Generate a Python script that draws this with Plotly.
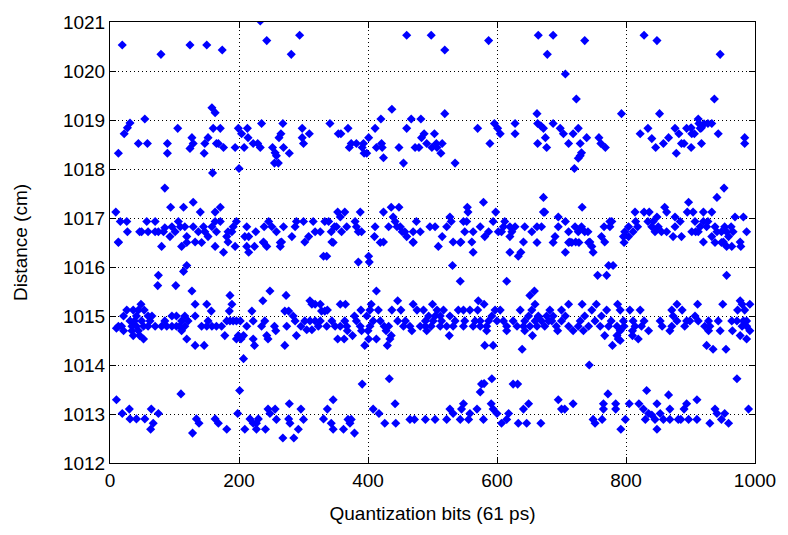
import plotly.graph_objects as go

# Quantization bits (x) vs measured distance in cm (y), read band by band
band_top = [(19,1020.53),(79,1020.34),(124,1020.53),(150,1020.53),(174,1020.43),(233,1021.02),
            (243,1020.62),(281,1020.34),(294,1020.73),(460,1020.73),(498,1020.73),(519,1020.43),
            (587,1020.62),(664,1020.73),(678,1020.34),(687,1020.73),(736,1020.62),(706,1019.94),
            (723,1019.43),(793,1019.13),(828,1020.73),(848,1020.62),(946,1020.34),(937,1019.43),
            (852,1019.13)]

band_1019 = [(13,1018.32),(22,1018.72),(27,1018.84),(31,1018.94),(54,1019.02),(44,1018.52),(58,1018.52),
             (89,1018.52),(89,1018.32),(105,1018.83),(127,1018.64),(129,1018.52),(124,1018.42),(152,1018.64),
             (147,1018.52),(146,1018.32),(158,1019.25),(163,1019.15),(160,1018.83),(165,1018.52),(159,1017.92),
             (171,1018.83),(168,1018.52),(176,1018.44),(194,1018.44),(199,1018.83),(204,1018.72),(213,1018.83),
             (214,1018.64),(208,1018.44),(222,1018.52),(229,1018.52),(233,1018.44),(235,1018.93),(200,1018.01),
             (252,1018.44),(256,1018.33),(258,1018.27),(255,1018.12),(261,1018.12),(262,1018.64),(265,1018.72),
             (268,1018.93),(269,1018.44),(278,1018.32),(298,1018.83),(298,1018.64),(300,1018.52),(309,1018.72),
             (341,1018.93),(354,1018.72),(358,1018.72),(369,1018.83),(374,1018.52),(371,1018.44),(382,1018.52),
             (393,1018.52),(391,1018.44),(394,1018.32),(398,1018.32),(401,1018.64),(411,1018.83),(413,1018.44),
             (420,1019.02),(421,1018.52),(422,1018.44),(424,1018.23),(437,1019.22),(448,1018.44),(455,1018.12),
             (460,1018.83),(467,1019.02),(473,1018.44),(479,1018.44),(482,1019.02),(483,1018.64),(487,1018.72),
             (491,1018.52),(499,1018.44),(503,1018.72),(506,1018.52),(519,1019.13),(507,1018.44),(515,1018.52),
             (513,1018.32),(535,1018.12),(570,1018.83),(589,1018.52),(596,1018.93),(601,1018.83),(605,1018.72),
             (628,1018.93),(628,1018.72),(662,1019.13),(663,1018.93),(668,1018.88),(672,1018.83),(663,1018.52),
             (675,1018.64),(687,1018.93),(698,1018.83),(703,1018.72),(718,1018.72),(726,1018.83),(677,1018.44),
             (711,1018.52),(729,1018.52),(739,1018.64),(731,1018.33),(729,1018.27),(726,1018.22),(720,1018.01),
             (758,1018.64),(761,1018.52),(768,1018.44),(822,1018.72),(834,1018.83),(840,1018.62),(846,1018.44),
             (858,1018.52),(866,1018.64),(876,1018.83),(882,1018.72),(886,1018.52),(890,1018.52),(894,1018.83),
             (901,1018.84),(902,1018.72),(906,1018.72),(901,1018.44),(878,1018.32),(912,1019.02),(913,1018.93),
             (917,1018.84),(921,1018.92),(927,1018.93),(933,1018.93),(915,1018.83),(943,1018.72),(917,1018.52),
             (984,1018.64),(984,1018.52)]

band_1017 = [(9,1017.12),(85,1017.61),(94,1017.22),(114,1017.22),(129,1017.32),(140,1017.12),(163,1017.12),
             (16,1016.93),(26,1016.93),(27,1016.72),(46,1016.72),(49,1016.72),(57,1016.93),(59,1016.72),
             (70,1016.93),(70,1016.72),(75,1016.72),(83,1016.72),(85,1016.80),(93,1016.62),(96,1016.82),
             (101,1016.72),(106,1016.93),(109,1016.82),(116,1016.82),(119,1016.62),(129,1016.82),(137,1016.72),
             (145,1016.82),(147,1016.72),(152,1016.62),(158,1016.82),(163,1016.93),(165,1016.72),(13,1016.51),
             (132,1016.51),(13,1016.50),(80,1016.42),(111,1016.42),(119,1016.50),(142,1016.50),(163,1016.42),
             (119,1016.03),(114,1015.91),(75,1015.83),(74,1015.62),(102,1015.62),(127,1015.51),
             (171,1017.22),(171,1016.93),(183,1016.72),(181,1016.62),(189,1016.72),(191,1016.82),(196,1016.93),
             (183,1016.51),(212,1016.82),(209,1016.62),(215,1016.62),(226,1016.72),(239,1016.82),(246,1016.93),
             (251,1016.82),(258,1016.72),(269,1016.82),(282,1016.62),(287,1016.82),(289,1016.93),(300,1016.93),
             (315,1016.93),(308,1016.62),(318,1016.72),(326,1016.72),(333,1016.93),(238,1016.51),(266,1016.51),
             (302,1016.51),(176,1016.30),(194,1016.42),(212,1016.42),(215,1016.30),(224,1016.42),(238,1016.50),
             (243,1016.42),(264,1016.50),(264,1016.42),(331,1016.22),
             (353,1017.12),(364,1017.12),(388,1017.12),(424,1017.12),(436,1017.22),(448,1017.22),(339,1016.93),
             (351,1016.82),(357,1017.02),(380,1016.93),(382,1016.82),(385,1016.72),(390,1016.72),(343,1016.72),
             (348,1016.82),(367,1016.82),(359,1016.72),(411,1016.82),(410,1016.62),(432,1016.82),(439,1017.02),
             (442,1016.93),(445,1016.82),(450,1016.82),(453,1016.72),(457,1016.72),(460,1016.62),(470,1016.72),
             (475,1016.93),(481,1016.72),(496,1016.82),(504,1016.82),(344,1016.51),(424,1016.51),(470,1016.51),
             (346,1016.50),(336,1016.22),(385,1016.10),(401,1016.22),(402,1016.10),(419,1016.50),(470,1016.50),
             (554,1017.22),(555,1017.12),(579,1017.32),(598,1017.12),(672,1017.42),(672,1017.12),(527,1017.02),
             (529,1016.93),(548,1016.93),(553,1016.93),(522,1016.82),(574,1016.82),(594,1016.93),(612,1016.93),
             (610,1016.82),(620,1016.82),(628,1016.82),(515,1016.62),(550,1016.72),(563,1016.72),(587,1016.72),
             (602,1016.72),(607,1016.72),(623,1016.72),(643,1016.82),(654,1016.72),(662,1016.82),(669,1016.82),
             (620,1016.62),(581,1016.62),(532,1016.51),(544,1016.51),(561,1016.51),(641,1016.51),(509,1016.42),
             (543,1016.50),(563,1016.30),(620,1016.30),(633,1016.22),(637,1016.30),(662,1016.50),(531,1016.03),
             (543,1015.71),(615,1015.71),(658,1015.51),(651,1015.42),
             (732,1017.22),(674,1017.12),(695,1017.02),(706,1016.93),(711,1016.72),(695,1016.82),(690,1016.62),
             (721,1016.82),(726,1016.72),(731,1016.82),(736,1016.72),(741,1016.72),(722,1016.51),(713,1016.51),
             (744,1016.51),(762,1016.62),(766,1016.82),(775,1016.93),(778,1016.93),(775,1016.82),(767,1016.51),
             (796,1016.62),(798,1016.72),(804,1016.82),(814,1017.12),(815,1016.93),(811,1016.72),(818,1016.82),
             (804,1016.62),(828,1017.12),(836,1017.12),(834,1016.93),(842,1016.93),(840,1016.82),(845,1016.72),
             (687,1016.50),(711,1016.50),(716,1016.50),(727,1016.50),(742,1016.50),(747,1016.42),(749,1016.30),
             (706,1016.30),(797,1016.50),(773,1016.03),(780,1016.03),(756,1015.83),(770,1015.83),
             (952,1017.61),(941,1017.42),(860,1017.22),(863,1017.12),(897,1017.32),(895,1017.12),(904,1017.12),
             (920,1017.12),(933,1017.12),(848,1017.02),(876,1017.02),(969,1017.02),(982,1017.02),(884,1016.93),
             (907,1016.93),(920,1016.93),(927,1016.93),(850,1016.82),(855,1016.72),(863,1016.72),(876,1016.82),
             (915,1016.82),(925,1016.82),(938,1016.82),(953,1016.82),(963,1016.82),(941,1016.72),(948,1016.72),
             (956,1016.72),(966,1016.72),(902,1016.72),(908,1016.72),(912,1016.72),(987,1016.72),(873,1016.62),
             (886,1016.62),(933,1016.62),(959,1016.62),(920,1016.51),(951,1016.51),(977,1016.51),(938,1016.50),
             (948,1016.50),(956,1016.42),(964,1016.42),(978,1016.42),(956,1015.83)]

band_1015 = [(48,1015.24),(26,1015.12),(36,1015.12),(44,1015.12),(53,1015.12),(21,1015.0),(41,1015.0),
             (59,1015.0),(65,1015.0),(31,1014.9),(38,1014.9),(49,1014.9),(62,1014.9),(85,1014.9),(96,1015.0),
             (103,1015.0),(111,1014.9),(116,1015.0),(121,1014.9),(132,1015.24),(132,1015.0),(150,1015.24),
             (157,1015.1),(152,1014.9),(13,1014.79),(18,1014.79),(34,1014.79),(41,1014.79),(52,1014.79),
             (59,1014.79),(70,1014.79),(80,1014.79),(88,1014.79),(96,1014.79),(103,1014.79),(108,1014.79),
             (116,1014.79),(142,1014.79),(150,1014.79),(158,1014.79),(10,1014.75),(21,1014.7),(34,1014.7),
             (44,1014.7),(111,1014.7),(36,1014.6),(46,1014.6),(52,1014.53),(119,1014.53),(132,1014.4),
             (146,1014.4),
             (186,1015.42),(189,1015.24),(185,1015.1),(220,1015.1),(237,1015.31),(248,1015.51),(273,1015.42),
             (271,1015.1),(277,1015.1),(310,1015.31),(313,1015.24),(318,1015.24),(326,1015.24),(328,1015.1),
             (333,1015.1),(284,1015.0),(181,1014.9),(186,1014.9),(191,1014.9),(196,1014.9),(202,1014.9),
             (222,1014.9),(240,1014.9),(287,1014.9),(302,1014.9),(310,1014.9),(318,1014.9),(326,1014.9),
             (165,1014.79),(173,1014.79),(212,1014.79),(235,1014.79),(255,1014.79),(274,1014.79),(296,1014.79),
             (323,1014.79),(257,1014.7),(305,1014.72),(313,1014.72),(178,1014.6),(199,1014.6),(207,1014.6),
             (243,1014.6),(289,1014.6),(196,1014.53),(222,1014.53),(245,1014.53),(203,1014.53),(224,1014.4),
             (271,1014.4),(207,1014.13),
             (413,1015.51),(446,1015.31),(357,1015.24),(365,1015.24),(405,1015.24),(470,1015.24),(500,1015.24),
             (337,1015.12),(389,1015.12),(403,1015.12),(416,1015.12),(437,1015.12),(451,1015.12),(476,1015.12),
             (486,1015.12),(379,1015.0),(398,1015.0),(494,1015.0),(504,1015.0),(344,1014.9),(364,1014.9),
             (382,1014.9),(408,1014.9),(419,1014.9),(446,1014.9),(458,1014.9),(489,1014.9),(501,1014.9),
             (336,1014.79),(349,1014.79),(357,1014.79),(367,1014.79),(388,1014.79),(403,1014.79),(425,1014.79),
             (432,1014.79),(455,1014.79),(465,1014.79),(481,1014.79),(489,1014.79),(498,1014.79),(368,1014.7),
             (390,1014.7),(400,1014.7),(428,1014.7),(468,1014.7),(491,1014.7),(376,1014.6),(436,1014.6),
             (353,1014.53),(363,1014.53),(401,1014.53),(413,1014.53),(434,1014.53),(395,1014.4),(430,1014.4),
             (571,1015.31),(580,1015.24),(659,1015.24),(507,1015.12),(517,1015.12),(540,1015.12),(548,1015.12),
             (558,1015.12),(570,1015.12),(597,1015.12),(605,1015.12),(636,1015.12),(654,1015.12),(512,1015.0),
             (527,1015.0),(592,1015.0),(649,1015.0),(664,1015.0),(514,1014.9),(535,1014.9),(550,1014.9),
             (566,1014.9),(574,1014.9),(587,1014.9),(600,1014.9),(610,1014.9),(625,1014.9),(643,1014.9),
             (659,1014.9),(669,1014.9),(512,1014.79),(522,1014.79),(532,1014.79),(548,1014.79),(563,1014.79),
             (574,1014.79),(584,1014.79),(615,1014.79),(631,1014.79),(641,1014.79),(651,1014.79),(662,1014.79),
             (615,1014.7),(584,1014.7),(643,1014.7),(526,1014.6),(655,1014.6),(581,1014.4),(594,1014.4),
             (639,1014.32),
             (711,1015.24),(732,1015.24),(754,1015.24),(787,1015.24),(682,1015.12),(700,1015.12),(747,1015.12),
             (770,1015.12),(791,1015.12),(806,1015.12),(822,1015.12),(677,1015.0),(687,1015.0),(706,1015.0),
             (736,1015.0),(762,1015.0),(680,1014.9),(685,1014.9),(700,1014.9),(729,1014.9),(752,1014.9),
             (777,1014.9),(796,1014.9),(811,1014.9),(828,1014.9),(674,1014.79),(692,1014.79),(711,1014.79),
             (726,1014.79),(742,1014.79),(760,1014.79),(773,1014.79),(786,1014.79),(797,1014.79),(814,1014.79),
             (824,1014.79),(694,1014.7),(718,1014.7),(734,1014.7),(791,1014.7),(810,1014.7),(835,1014.7),
             (767,1014.6),(786,1014.6),(810,1014.6),(788,1014.53),(819,1014.53),(779,1014.4),(791,1014.5),
             (743,1014.0),
             (879,1015.24),(911,1015.24),(950,1015.24),(977,1015.31),(980,1015.24),(992,1015.24),(871,1015.12),
             (887,1015.12),(973,1015.12),(984,1015.12),(873,1015.0),(907,1015.0),(879,1014.9),(894,1014.9),
             (899,1014.9),(912,1014.9),(928,1014.9),(943,1014.9),(964,1014.9),(972,1014.9),(982,1014.9),
             (987,1014.9),(853,1014.9),(856,1014.79),(871,1014.79),(891,1014.79),(922,1014.79),(930,1014.79),
             (987,1014.79),(980,1014.79),(868,1014.7),(928,1014.7),(946,1014.7),(965,1014.7),(992,1014.7),
             (977,1014.6),(987,1014.53),(925,1014.4),(935,1014.32),(955,1014.32)]

band_1013 = [(10,1013.29),(110,1013.41),(19,1013.01),(30,1013.1),(31,1012.9),(41,1012.9),(54,1012.9),
             (64,1013.1),(75,1013.01),(67,1012.81),(63,1012.69),(134,1012.9),(138,1012.81),(128,1012.61),
             (163,1012.9),
             (201,1013.48),(198,1013.01),(168,1012.81),(181,1012.69),(209,1012.69),(217,1012.9),(222,1012.81),
             (227,1012.81),(230,1012.9),(227,1012.69),(241,1012.69),(245,1013.1),(248,1013.01),(256,1013.1),
             (258,1012.89),(268,1012.51),(278,1013.21),(277,1012.9),(279,1012.81),(285,1012.51),(292,1012.69),
             (296,1013.1),(300,1012.89),(331,1012.9),
             (391,1013.61),(433,1013.72),(346,1013.29),(337,1013.1),(442,1013.21),(408,1013.1),(417,1013.01),
             (343,1012.81),(346,1012.69),(362,1012.69),(369,1012.89),(374,1012.89),(372,1012.81),(379,1012.61),
             (426,1012.81),(443,1012.81),(465,1012.89),(472,1012.89),(489,1012.89),(504,1012.89),
             (592,1013.72),(580,1013.62),(576,1013.61),(574,1013.45),(625,1013.61),(632,1013.61),(548,1013.21),
             (591,1013.21),(649,1013.21),(527,1013.1),(545,1013.1),(569,1013.1),(594,1013.1),(641,1013.1),
             (600,1013.01),(532,1013.01),(558,1013.01),(618,1013.01),(522,1012.89),(543,1012.89),(556,1012.89),
             (579,1012.89),(615,1012.89),(607,1012.81),(633,1012.81),(646,1012.81),(668,1012.81),
             (695,1013.29),(772,1013.41),(832,1013.48),(718,1013.21),(765,1013.21),(784,1013.21),(805,1013.21),
             (820,1013.21),(700,1013.1),(705,1013.1),(765,1013.1),(784,1013.1),(827,1013.1),(835,1013.01),
             (840,1012.98),(749,1012.89),(763,1012.89),(799,1012.89),(830,1012.89),(845,1012.89),(752,1012.81),
             (792,1012.69),(848,1012.69),
             (972,1013.72),(866,1013.39),(910,1013.29),(894,1013.21),(848,1013.21),(990,1013.1),(938,1013.1),
             (853,1013.01),(868,1013.1),(890,1013.1),(941,1013.01),(953,1013.01),(858,1012.89),(868,1012.89),
             (881,1012.89),(885,1012.89),(897,1012.89),(910,1012.89),(948,1012.89),(930,1012.81),(959,1012.81)]

x_ticks = [0, 200, 400, 600, 800, 1000]
y_ticks = [1012, 1013, 1014, 1015, 1016, 1017, 1018, 1019, 1020, 1021]

all_pts = band_top + band_1019 + band_1017 + band_1015 + band_1013
xs = [p[0] for p in all_pts]
ys = [p[1] for p in all_pts]

fig = go.Figure(go.Scatter(
    x=xs, y=ys, mode="markers",
    marker=dict(symbol="diamond", size=7, color="#0000FF", line=dict(width=0)),
    showlegend=False, hoverinfo="skip"))

FONT = "Liberation Sans, Arial, sans-serif"
axis_common = dict(
    showline=True, linecolor="black", linewidth=1, mirror="ticks",
    ticks="inside", ticklen=6, tickcolor="black",
    showgrid=True, gridcolor="black", griddash="1px,3px", gridwidth=1,
    zeroline=False,
    tickfont=dict(family=FONT, size=19, color="black"),
)

fig.update_layout(
    width=788, height=535,
    margin=dict(l=110, r=33, t=18, b=72),
    paper_bgcolor="white", plot_bgcolor="white",
    xaxis=dict(range=[0, 1000], tickvals=x_ticks,
               title=dict(text="Quantization bits (61 ps)", standoff=16,
                          font=dict(family=FONT, size=19, color="black")),
               **axis_common),
    yaxis=dict(range=[1012, 1021], tickvals=y_ticks,
               title=dict(text="Distance (cm)", standoff=30,
                          font=dict(family=FONT, size=19, color="black")),
               **axis_common),
)

fig.write_html("out.html")
